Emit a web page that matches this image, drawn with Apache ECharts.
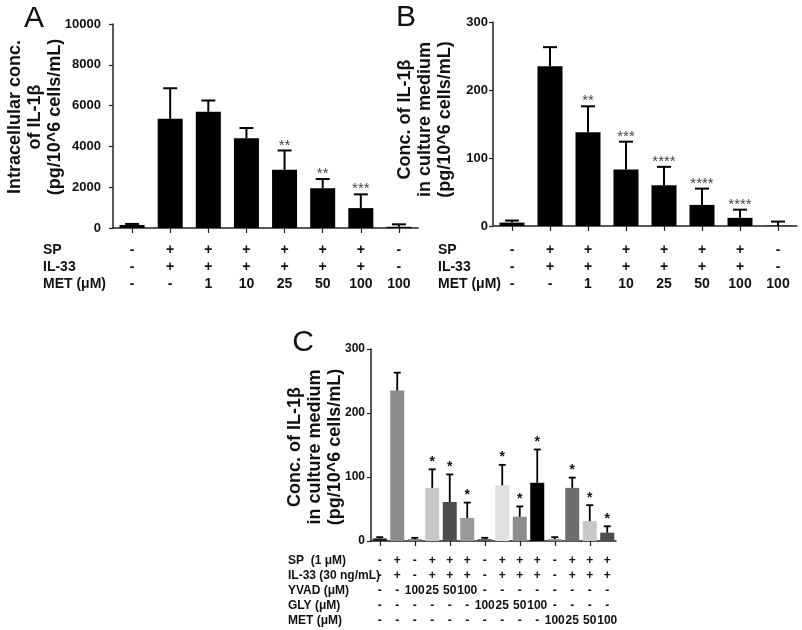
<!DOCTYPE html>
<html><head><meta charset="utf-8">
<script src="https://cdn.jsdelivr.net/npm/echarts@6/dist/echarts.min.js"></script>
<style>html,body{margin:0;padding:0;background:#fff}#c{width:802px;height:630px}</style>
</head><body><div id="c"></div>
<script>
// ---------- data ----------
const catsAB = ['a1','a2','a3','a4','a5','a6','a7','a8'];
const abSP   = ['-','+','+','+','+','+','+','-'];
const abIL33 = ['-','+','+','+','+','+','+','-'];
const abMET  = ['-','-','1','10','25','50','100','100'];

const aMean  = [150, 5350, 5700, 4400, 2850, 1950, 975, 60];
const aErr   = [200, 6850, 6250, 4900, 3800, 2400, 1650, 180];
const aStars = ['', '', '', '', '**', '**', '***', ''];

const bMean  = [5, 235, 138, 83, 60, 31, 12, 0.5];
const bErr   = [8, 263, 176, 124, 87, 55, 24, 6.5];
const bStars = ['', '', '**', '***', '****', '****', '****', ''];

const catsC = ['c1','c2','c3','c4','c5','c6','c7','c8','c9','c10','c11','c12','c13','c14'];
const cSP   = ['-','+','-','+','+','+','-','+','+','+','-','+','+','+'];
const cIL33 = ['-','+','-','+','+','+','-','+','+','+','-','+','+','+'];
const cYVAD = ['-','-','100','25','50','100','-','-','-','-','-','-','-','-'];
const cGLY  = ['-','-','-','-','-','-','100','25','50','100','-','-','-','-'];
const cMET  = ['-','-','-','-','-','-','-','-','-','-','100','25','50','100'];
const cMean  = [4, 235, 3, 83, 61, 36, 3, 87, 38, 91, 3, 83, 31, 13];
const cErr   = [6, 263, 5, 112, 104, 60, 5, 119, 54, 143, 6, 99, 56, 23];
const cStars = ['', '', '', '*', '*', '*', '', '*', '*', '*', '', '*', '*', '*'];

// ---------- styles ----------
const cColors = ['#1a1a1a','#8c8c8c','#7a7a7a','#c8c8c8','#4d4d4d','#999999','#555555',
                 '#e0e0e0','#8c8c8c','#000000','#8c8c8c','#6e6e6e','#c8c8c8','#4d4d4d'];
const FF = "Liberation Sans, Arial, sans-serif";
const AX = '#222';

function errRender(stars, capHalf, lw, starFont, starColor, starGap) {
  return function (params, api) {
    const i = api.value(0);
    const base = api.coord([i, api.value(1)]);
    const top = api.coord([i, api.value(2)]);
    const ch = [
      {type:'line', shape:{x1:top[0], y1:base[1], x2:top[0], y2:top[1]}, style:{stroke:'#000', lineWidth:lw}},
      {type:'line', shape:{x1:top[0]-capHalf, y1:top[1], x2:top[0]+capHalf, y2:top[1]}, style:{stroke:'#000', lineWidth:lw}}
    ];
    const s = stars[params.dataIndex];
    if (s) ch.push({type:'text', style:{text:s, x:top[0], y:top[1]-starGap, align:'center', verticalAlign:'middle', font:starFont, fill:starColor}});
    return {type:'group', children:ch};
  };
}

function mainX(gi, cats) {
  return {type:'category', gridIndex:gi, data:cats, position:'bottom',
    axisLine:{show:true, lineStyle:{color:AX, width:1.5}},
    axisTick:{show:true, alignWithLabel:true, length:5, lineStyle:{color:AX, width:1.2}},
    axisLabel:{show:false}, splitLine:{show:false}};
}
function rowX(gi, cats, arr, off, fs) {
  return {type:'category', gridIndex:gi, data:cats, position:'bottom', offset:off,
    axisLine:{show:false}, axisTick:{show:false}, splitLine:{show:false},
    axisLabel:{show:true, interval:0, hideOverlap:false, margin:0, formatter:(v, idx) => arr[idx],
      fontFamily:FF, fontWeight:700, fontSize:fs, color:'#111', lineHeight:fs, verticalAlign:'top'}};
}
function valY(gi, max, interval, margin, fs) {
  return {type:'value', gridIndex:gi, min:0, max:max, interval:interval,
    axisLine:{show:true, lineStyle:{color:AX, width:1.5}},
    axisTick:{show:true, length:4, lineStyle:{color:AX, width:1.2}},
    splitLine:{show:false},
    axisLabel:{margin:margin, color:'#111', fontSize:fs, fontWeight:'bold', fontFamily:FF,
      formatter:(v) => '{t|' + v + '}',
      rich:{t:{fontFamily:FF, fontWeight:'bold', fontSize:fs, color:'#111'}}}};
}

const chart = echarts.init(document.getElementById('c'), null, {renderer:'canvas'});

const rowText = (x, y, t, fs) => ({type:'text', x:x, y:y, style:{text:t, align:'left', verticalAlign:'middle', font:'bold ' + fs + 'px ' + FF, fill:'#111'}});
const title = (x, y, t, fs) => ({type:'text', x:x, y:y, rotation:Math.PI/2, style:{text:t, align:'center', verticalAlign:'middle', font:'bold ' + fs + 'px ' + FF, lineHeight:20, fill:'#111'}});
const letter = (x, y, t) => ({type:'text', x:x, y:y, style:{text:t, align:'center', verticalAlign:'middle', font:'30px ' + FF, fill:'#111'}});

chart.setOption({
  animation:false,
  backgroundColor:'#fff',
  grid:[
    {left:113, top:24, width:305, height:204},
    {left:493, top:22, width:304, height:204},
    {left:371, top:349, width:245, height:192}
  ],
  xAxis:[
    mainX(0, catsAB), rowX(0, catsAB, abSP, 15, 14), rowX(0, catsAB, abIL33, 32, 14), rowX(0, catsAB, abMET, 49, 14),
    mainX(1, catsAB), rowX(1, catsAB, abSP, 17, 14), rowX(1, catsAB, abIL33, 34, 14), rowX(1, catsAB, abMET, 51, 14),
    mainX(2, catsC), rowX(2, catsC, cSP, 14, 12), rowX(2, catsC, cIL33, 29, 12), rowX(2, catsC, cYVAD, 44, 12),
    rowX(2, catsC, cGLY, 59, 12), rowX(2, catsC, cMET, 74, 12)
  ],
  yAxis:[ valY(0, 10000, 2000, 12, 13), valY(1, 300, 100, 5, 13), valY(2, 300, 100, 6, 12) ],
  series:[
    {type:'bar', xAxisIndex:0, yAxisIndex:0, data:aMean, barWidth:25, itemStyle:{color:'#000'}, z:2},
    {type:'custom', xAxisIndex:0, yAxisIndex:0, z:3, renderItem:errRender(aStars, 7, 2, '15px ' + FF, '#444', 5),
      data:aMean.map((v, i) => [i, v, aErr[i]])},
    {type:'bar', xAxisIndex:4, yAxisIndex:1, data:bMean, barWidth:25, itemStyle:{color:'#000'}, z:2},
    {type:'custom', xAxisIndex:4, yAxisIndex:1, z:3, renderItem:errRender(bStars, 7, 2, '15px ' + FF, '#444', 5),
      data:bMean.map((v, i) => [i, v, bErr[i]])},
    {type:'bar', xAxisIndex:8, yAxisIndex:2, barWidth:14, z:2,
      data:cMean.map((v, i) => ({value:v, itemStyle:{color:cColors[i]}}))},
    {type:'custom', xAxisIndex:8, yAxisIndex:2, z:3, renderItem:errRender(cStars, 3.5, 1.8, 'bold 14px ' + FF, '#111', 7.5),
      data:cMean.map((v, i) => [i, v, cErr[i]])}
  ],
  graphic:[
    letter(34, 19, 'A'), letter(406, 18, 'B'), letter(303, 343, 'C'),
    title(35.5, 117, 'Intracellular conc.\nof IL-1β\n(pg/10^6 cells/mL)', 18),
    title(425, 119.5, 'Conc. of IL-1β\nin culture medium\n(pg/10^6 cells/mL)', 18),
    title(315, 447, 'Conc. of IL-1β\nin culture medium\n(pg/10^6 cells/mL)', 18),
    rowText(43, 250, 'SP', 14), rowText(43, 267, 'IL-33', 14), rowText(43, 284, 'MET (μM)', 14),
    rowText(438, 250, 'SP', 14), rowText(438, 267, 'IL-33', 14), rowText(438, 284, 'MET (μM)', 14),
    rowText(288, 561, 'SP  (1 μM)', 12), rowText(288, 576, 'IL-33 (30 ng/mL)', 12), rowText(288, 591, 'YVAD (μM)', 12),
    rowText(288, 606, 'GLY (μM)', 12), rowText(288, 621, 'MET (μM)', 12)
  ]
});
</script>
</body></html>
